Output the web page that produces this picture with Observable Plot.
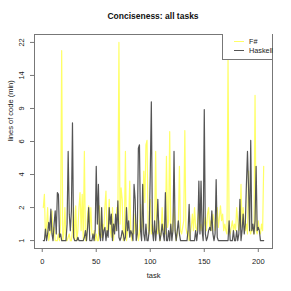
<!DOCTYPE html>
<html><head><meta charset="utf-8">
<script src="https://cdn.jsdelivr.net/npm/d3@7"></script>
<script src="https://cdn.jsdelivr.net/npm/@observablehq/plot@0.6"></script>
<style>
body{margin:0;background:#fff;font-family:"Liberation Sans",Arial,sans-serif;}
#wrap{position:relative;width:291px;height:291px;}
#title{position:absolute;left:0;width:306px;top:11px;text-align:center;font-weight:bold;font-size:8.5px;color:#111;}
#legend{position:absolute;left:222px;top:34px;width:49px;height:25px;border:1px solid #777;border-top:none;border-right:none;background:#fff;font-size:7.3px;color:#222;}
.row{position:absolute;left:11px;height:9px;display:flex;align-items:center;}
.sw{width:10px;height:0;margin-right:5px;}
</style></head>
<body><div id="wrap"><div id="title">Conciseness: all tasks</div><div id="chart"></div><div id="legend"></div></div>
<script>
const seriesNames = ["F#", "Haskell"];
const seriesColors = ["#ffff66", "#555555"];
const yTicks = [1, 2, 4, 6, 9, 14, 22];
const yTickLabels = ["1", "2", "4", "6", "9", "14", "22"];
const xTicks = [0, 50, 100, 150, 200];

const fsharp = [2,2.8,1.1,1.4,2,1,1.2,1.3,1.9,1.1,1.4,1,1,1,1.2,1,1.5,20,1,1.2,
2,1,1,1.1,1.2,1,1,1.3,2,1,2.1,1,1.3,2,2.9,1.3,2.8,1,5.4,1,
1,1.8,2.1,1.3,2,1.2,1.1,1.3,1,1.2,1,1,2.1,1.2,1.1,1.5,1.3,2,3,1.2,
1.5,2.5,1.3,1.1,2,1,1.5,1.3,2,1.6,22,1.5,3.2,2.5,1,1.2,5.4,1,1.3,1.5,
3.6,1.3,1,1.3,1.2,1.8,1.3,1.5,1,1.2,2.2,1.3,1.5,4.2,2.3,5.8,6.1,1.4,1.2,2.5,
1.2,1.5,1.3,1.4,5.4,1.3,1.2,1.6,1,1.2,2,1.3,1.5,1.2,5.1,1.4,1.6,6.9,1.3,1.2,
1.6,2,1.3,1,1.2,1.5,4.5,1.3,1.2,1.4,1.6,7,1.4,1.2,1.3,1,1.2,1.4,1.8,1.3,
2,1.4,1.3,1.6,2,1.3,1.5,1.3,1.4,1.5,1.7,1.3,1.8,2,1.4,1.6,1.3,1.8,1.6,1.3,
1.5,2,1.4,1.7,2.1,1.6,1.8,1.3,1.5,1.3,1.2,18,1.3,1.2,1.4,1.6,1.3,1.5,1.3,2,
1.6,1.3,1.6,3.4,1.4,2,1.6,1.3,1.5,1.2,4.2,1.3,1.2,1.4,1.3,1.2,11,1.3,1.2,1.6,
1.3,1.2,1.5,1.3,4.5];

const haskell = [1,1,1.35,1,1.2,1.55,1.3,1.95,1.2,1,1.5,1.9,1.2,2.9,2.8,1.1,1.2,1,1,1,
1,1,1.5,5.4,1.8,1.3,1.9,7.7,1.1,1,1,1,1.1,1,1,1,1,1,1.1,1.3,
1,1.4,2,1,1,1,1.2,1,1.3,4.5,1.5,3.4,1.2,1,2,1,1.3,1.4,1,1.3,
1.1,2,1.5,1.8,1,1.5,1.2,1.8,1.3,2.4,1.1,1,1.1,1.3,1.2,1,1.1,2,1.3,1.6,
1.1,1.3,1.2,1,3.4,2.5,1,1.2,5.6,5.8,1.3,1,3.4,1.2,1,1.5,1,1,1.3,4,
10,1.3,1,1.6,1,1.4,2.5,1.3,1,1.2,1.5,1.2,1,2.9,1,1,1.3,1,1.5,1,
1.3,5.4,1.3,1,1.3,1.6,1.2,1,1,1,1,1,1,1,1.3,2.2,1,1,1,1,
1,1.3,1,1.3,3.6,1.2,3.6,1.3,1,8.9,1.2,1,1.1,1.3,1.4,1.3,1.9,1.2,1,1.2,
3.7,1.1,1,1,1,1,1,1,1,1,1,1,1.6,1,1,1,1.3,1,1,1.3,
1,1.2,2.5,1,1.3,1.8,1.2,1.5,3.4,5.4,3.2,1.3,6.1,1.3,1.5,1.2,1.6,4.5,1.3,1.4,
1.3,1,1,1,1];

const W = 291, H = 291;
const mL = 34, mR = 19, mT = 34, mB = 43;
const n = fsharp.length;
const data = [];
fsharp.forEach((v, i) => data.push({task: i + 1, value: v, lang: seriesNames[0]}));
haskell.forEach((v, i) => data.push({task: i + 1, value: v, lang: seriesNames[1]}));

// R-style 4% axis extension
const xlo = 1, xhi = n;
const xpad = (xhi - xlo) * 0.04;
const innerH = H - mT - mB;
const e = innerH * 0.04 / 1.08;
const yBottom = H - mB - e, yTop = mT + e;
const yRange = yTicks.map((_, k) => yBottom - k * (yBottom - yTop) / (yTicks.length - 1));

const plot = Plot.plot({
  width: W, height: H,
  marginLeft: mL, marginRight: mR, marginTop: mT, marginBottom: mB,
  style: {fontFamily: "Liberation Sans, Arial, sans-serif", fontSize: "7.5px", color: "#222", background: "#fff"},
  x: {domain: [xlo - xpad, xhi + xpad]},
  y: {type: "linear", domain: yTicks, range: yRange},
  color: {domain: seriesNames, range: seriesColors},
  marks: [
    Plot.line(data.filter(d => d.lang === "F#"), {x: "task", y: "value", stroke: seriesColors[0], strokeWidth: 1.2}),
    Plot.line(data.filter(d => d.lang === "Haskell"), {x: "task", y: "value", stroke: seriesColors[1], strokeWidth: 1.2}),
    Plot.frame({stroke: "#777"}),
    Plot.axisX({ticks: xTicks, tickSize: 4, tickPadding: 6, stroke: "#777", fill: "#222", label: null}),
    Plot.axisY({ticks: yTicks, tickSize: 4, tickPadding: 7, tickRotate: -90, textAnchor: "middle", tickFormat: (d, i) => yTickLabels[yTicks.indexOf(d)], stroke: "#777", fill: "#222", label: null}),
    Plot.text(["task"], {frameAnchor: "bottom", dy: 29, fill: "#222"}),
    Plot.text(["lines of code (min)"], {frameAnchor: "left", dx: -24, rotate: -90, fill: "#222"})
  ]
});
document.getElementById("chart").appendChild(plot);

const lg = document.getElementById("legend");
seriesNames.forEach((name, i) => {
  const r = document.createElement("div");
  r.className = "row";
  r.style.top = (3 + i * 9) + "px";
  r.innerHTML = `<span class="sw" style="border-top:1.3px solid ${seriesColors[i]}"></span><span>${name}</span>`;
  lg.appendChild(r);
});
</script></body></html>
